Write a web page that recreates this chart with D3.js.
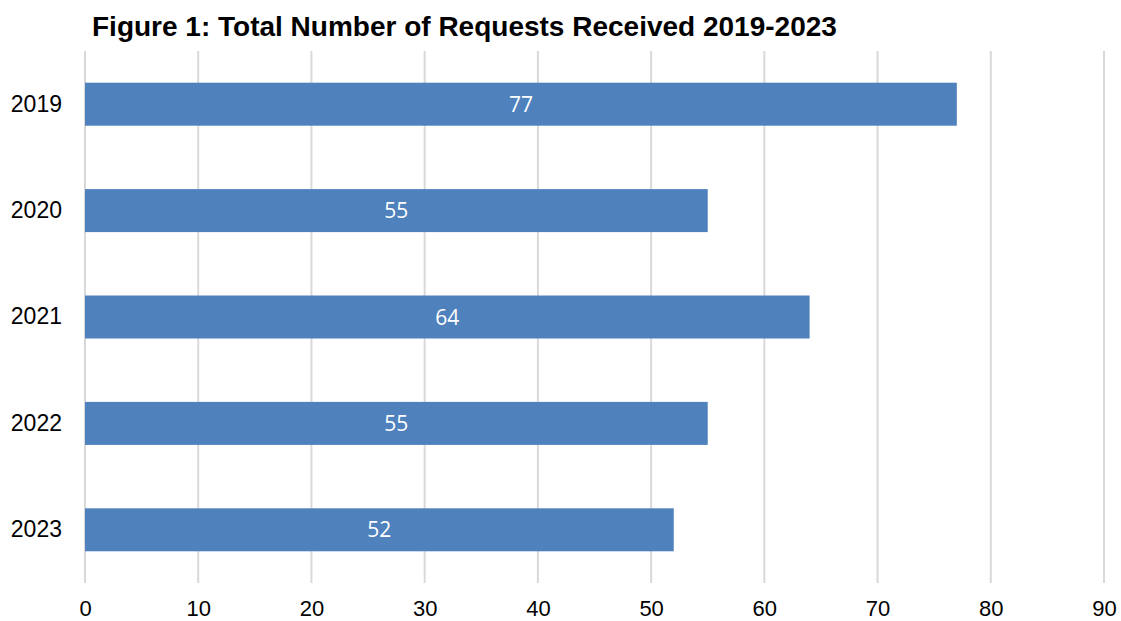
<!DOCTYPE html>
<html>
<head>
<meta charset="utf-8">
<script src="https://d3js.org/d3.v7.min.js"></script>
<style>
  body { margin: 0; background: #fff; overflow: hidden; }
  svg { display: block; }
</style>
</head>
<body>
<div id="chart"></div>
<script>
// data
var years = ["2019", "2020", "2021", "2022", "2023"];
var requests = [77, 55, 64, 55, 52];
var xTicks = [0, 10, 20, 30, 40, 50, 60, 70, 80, 90];

var svgWidth = 1121;
var svgHeight = 621;

var margin = { top: 51, right: 17, bottom: 38, left: 85 };
var chartWidth = svgWidth - margin.left - margin.right;
var chartHeight = svgHeight - margin.top - margin.bottom;

var svg = d3.select("#chart")
    .append("svg")
    .attr("width", svgWidth)
    .attr("height", svgHeight);

// title
svg.append("text")
    .attr("x", 92)
    .attr("y", 36)
    .attr("font-family", "Liberation Sans, Arial, sans-serif")
    .attr("font-weight", "bold")
    .attr("font-size", 28)
    .attr("fill", "#000")
    .text("Figure 1: Total Number of Requests Received 2019-2023");

var g = svg.append("g")
    .attr("transform", `translate(${margin.left}, ${margin.top})`);

var xScale = d3.scaleLinear()
    .domain([0, 90])
    .range([0, chartWidth]);

var yScale = d3.scaleBand()
    .domain(years)
    .range([0, chartHeight])
    .paddingInner(0.596)
    .paddingOuter(0.298);

// gridlines
g.selectAll(".grid")
    .data(xTicks)
    .enter()
    .append("line")
    .attr("class", "grid")
    .attr("x1", d => xScale(d))
    .attr("x2", d => xScale(d))
    .attr("y1", 0)
    .attr("y2", chartHeight)
    .attr("stroke", "#d9d9d9")
    .attr("stroke-width", 2);

// bars
g.selectAll(".bar")
    .data(requests)
    .enter()
    .append("rect")
    .attr("class", "bar")
    .attr("x", xScale(0))
    .attr("y", (d, i) => yScale(years[i]))
    .attr("width", d => xScale(d))
    .attr("height", yScale.bandwidth())
    .attr("fill", "#4f81bd");

// value labels
g.selectAll(".val")
    .data(requests)
    .enter()
    .append("text")
    .attr("class", "val")
    .attr("x", d => xScale(d) / 2)
    .attr("y", (d, i) => yScale(years[i]) + yScale.bandwidth() / 2)
    .attr("dy", "0.36em")
    .attr("text-anchor", "middle")
    .attr("font-family", "Open Sans, sans-serif")
    .attr("font-size", 21)
    .attr("fill", "#fff")
    .text(d => d);

// x axis
var bottomAxis = d3.axisBottom(xScale).tickValues(xTicks).tickSize(0).tickPadding(17);
var xAxisG = g.append("g")
    .attr("transform", `translate(0, ${chartHeight})`)
    .call(bottomAxis);
xAxisG.select(".domain").remove();
xAxisG.selectAll("text")
    .attr("font-family", "Liberation Sans, Arial, sans-serif")
    .attr("font-size", 22)
    .attr("fill", "#000");

// y axis
var leftAxis = d3.axisLeft(yScale).tickSize(0).tickPadding(23);
var yAxisG = g.append("g").call(leftAxis);
yAxisG.select(".domain").remove();
yAxisG.selectAll("text")
    .attr("font-family", "Liberation Sans, Arial, sans-serif")
    .attr("font-size", 23)
    .attr("fill", "#000");
</script>
</body>
</html>
